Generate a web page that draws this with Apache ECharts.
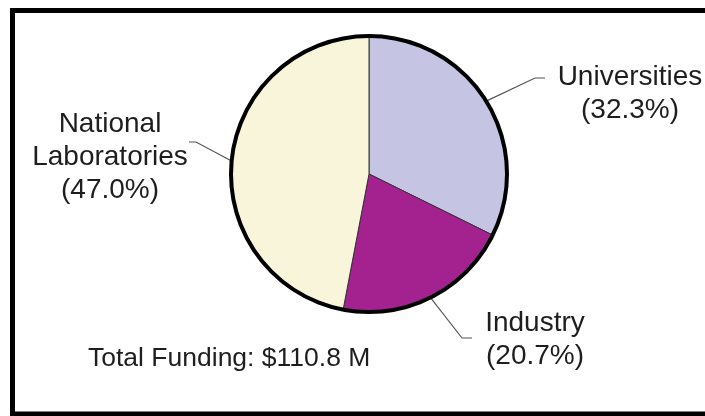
<!DOCTYPE html>
<html>
<head>
<meta charset="utf-8">
<title>Funding by Performer</title>
<script src="https://cdn.jsdelivr.net/npm/echarts@6/dist/echarts.min.js"></script>
<style>
  html, body { margin: 0; padding: 0; background: #fff; }
  #chart { width: 705px; height: 416px; }
</style>
</head>
<body>
<div id="chart"></div>
<script>
// Funding shares by performer type (percent of total)
const categories = ['Universities', 'Industry', 'National\nLaboratories'];
const shares = [32.3, 20.7, 47.0];
const totalFunding = 110.8; // $ millions

const sliceColors = ['#c5c4e2', '#a3228f', '#f9f5da'];

const PIE_CENTER = [369, 174];
const PIE_RADIUS = 138;
const FONT = '"Liberation Sans", Arial, Helvetica, sans-serif';

// Label block centres and leader-line bends, per slice
const labelSpots = [
  { x: 630, y: 94, bend: [535, 78], end: [545, 78] },
  { x: 535, y: 340, bend: [462, 338], end: [472, 338] },
  { x: 110, y: 157, bend: [196, 142], end: [189, 142] }
];

const chart = echarts.init(document.getElementById('chart'), null, { renderer: 'canvas' });

chart.setOption({
  backgroundColor: '#ffffff',
  animation: false,
  graphic: [
    {
      type: 'rect',
      silent: true,
      shape: { x: 12.5, y: 10.5, width: 720, height: 403.5 },
      style: { fill: 'none', stroke: '#000', lineWidth: 5 }
    },
    {
      type: 'text',
      silent: true,
      left: 88,
      top: 345,
      style: {
        text: 'Total Funding: $' + totalFunding.toFixed(1) + ' M',
        font: '26.5px ' + FONT,
        fill: '#1e1e1e'
      }
    }
  ],
  series: [
    {
      type: 'pie',
      center: PIE_CENTER,
      radius: PIE_RADIUS,
      startAngle: 90,
      clockwise: true,
      avoidLabelOverlap: false,
      padAngle: 0,
      itemStyle: { borderColor: '#333', borderWidth: 1, borderRadius: 0 },
      emphasis: { disabled: true },
      data: categories.map((name, i) => ({
        name: name,
        value: shares[i],
        itemStyle: { color: sliceColors[i] }
      })),
      label: {
        show: true,
        position: 'outside',
        formatter: p => p.name + '\n(' + p.value.toFixed(1) + '%)',
        fontFamily: FONT,
        fontSize: 28,
        lineHeight: 33,
        color: '#1e1e1e',
        align: 'center'
      },
      labelLine: {
        show: true,
        length: 20,
        length2: 10,
        smooth: false,
        lineStyle: { color: '#555', width: 1.2 }
      },
      labelLayout: function (params) {
        const spot = labelSpots[params.dataIndex];
        const start = params.labelLinePoints ? params.labelLinePoints[0] : spot.bend;
        return {
          x: spot.x,
          y: spot.y,
          align: 'center',
          verticalAlign: 'middle',
          labelLinePoints: [start, spot.bend, spot.end]
        };
      }
    },
    {
      // heavy outline around the whole pie
      type: 'pie',
      center: PIE_CENTER,
      radius: PIE_RADIUS,
      silent: true,
      z: 3,
      label: { show: false },
      labelLine: { show: false },
      emphasis: { disabled: true },
      itemStyle: { color: 'rgba(0,0,0,0)', borderColor: '#000', borderWidth: 4 },
      data: [{ value: 1, name: 'outline' }]
    }
  ]
});
</script>
</body>
</html>
